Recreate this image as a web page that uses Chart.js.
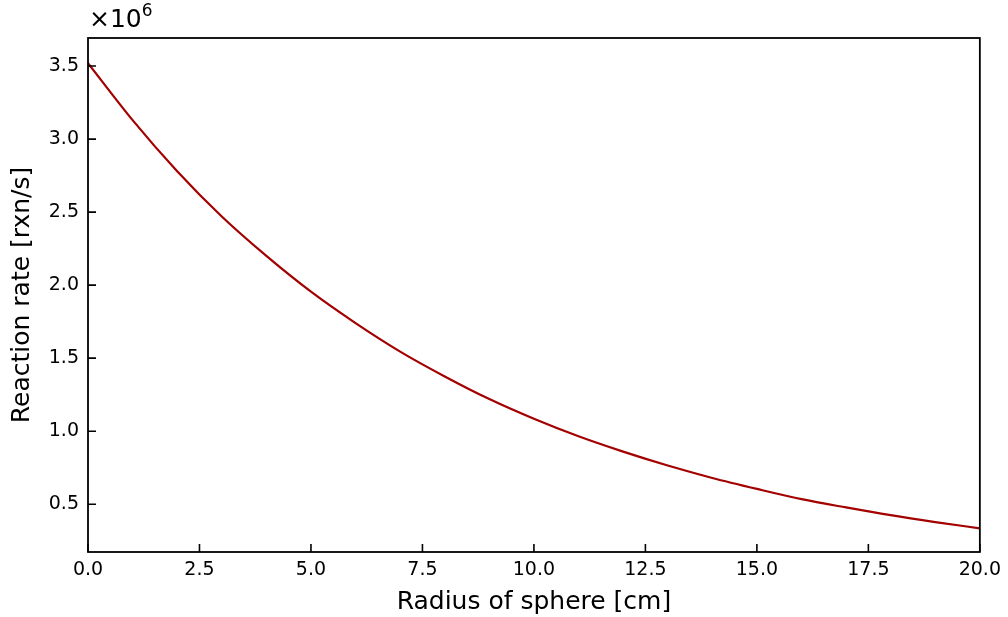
<!DOCTYPE html>
<html>
<head>
<meta charset="utf-8">
<script src="https://cdn.jsdelivr.net/npm/chart.js@4"></script>
<style>
  html, body { margin: 0; padding: 0; background: #fff; }
  #wrap { width: 1008px; height: 617px; position: relative; }
  #expo { position: absolute; left: 89px; top: 2px; font-family: "DejaVu Sans"; font-size: 25px; color: #000; }
  #expo sup { font-size: 17px; position: relative; top: -2px; }
</style>
</head>
<body>
<div id="wrap">
  <canvas id="chart" width="1008" height="617"></canvas>
  <div id="expo">×10<sup>6</sup></div>
</div>
<script>
// radius of sphere [cm]
const radius = [0, 1, 2, 3, 4, 5, 6, 7, 8, 9, 10, 11, 12, 13, 14, 15, 16, 17, 18, 19, 20];
// reaction rate [x10^6 rxn/s]
const rate = [3.52, 3.13, 2.78, 2.47, 2.20, 1.955, 1.74, 1.545, 1.375, 1.22, 1.085,
              0.965, 0.86, 0.765, 0.68, 0.605, 0.535, 0.478, 0.425, 0.378, 0.335];
const xTicks = [0, 2.5, 5, 7.5, 10, 12.5, 15, 17.5, 20];
const yTicks = [0.5, 1.0, 1.5, 2.0, 2.5, 3.0, 3.5];

const FONT = "DejaVu Sans";

// box around the plot + ticks pointing inwards (matplotlib style)
const frame = {
  id: "frame",
  afterDraw(chart) {
    const { ctx, chartArea: a, scales } = chart;
    ctx.save();
    ctx.strokeStyle = "#000";
    ctx.lineWidth = 1.8;
    ctx.strokeRect(a.left, a.top, a.right - a.left, a.bottom - a.top);
    ctx.lineWidth = 1.6;
    ctx.beginPath();
    for (const v of xTicks) {
      const px = scales.x.getPixelForValue(v);
      ctx.moveTo(px, a.bottom);
      ctx.lineTo(px, a.bottom - 8);
    }
    for (const v of yTicks) {
      const py = scales.y.getPixelForValue(v);
      ctx.moveTo(a.left, py);
      ctx.lineTo(a.left + 8, py);
    }
    ctx.stroke();
    ctx.restore();
  }
};

new Chart(document.querySelector("#chart"), {
  type: "line",
  data: {
    datasets: [{
      data: radius.map((r, i) => ({ x: r, y: rate[i] })),
      borderColor: "#a30000",
      borderWidth: 2.2,
      pointRadius: 0,
      cubicInterpolationMode: "monotone",
    }],
  },
  options: {
    responsive: false,
    animation: false,
    layout: { padding: { left: 0, top: 38, right: 25, bottom: 0 } },
    plugins: { legend: { display: false }, tooltip: { enabled: false } },
    scales: {
      x: {
        type: "linear",
        min: 0, max: 20,
        afterBuildTicks: s => { s.ticks = xTicks.map(v => ({ value: v })); },
        afterFit: s => { s.height = 65; },
        grid: { display: false, drawTicks: false },
        border: { display: false },
        ticks: {
          padding: 7, color: "#000",
          font: { family: FONT, size: 19 },
          callback: v => v.toFixed(1),
          maxRotation: 0,
        },
        title: {
          display: true, text: "Radius of sphere [cm]", color: "#000",
          font: { family: FONT, size: 25 }, padding: { top: 0, bottom: 0 },
        },
      },
      y: {
        min: 0.173, max: 3.692,
        afterBuildTicks: s => { s.ticks = yTicks.map(v => ({ value: v })); },
        afterFit: s => { s.width = 88; },
        grid: { display: false, drawTicks: false },
        border: { display: false },
        ticks: {
          padding: 9, color: "#000",
          font: { family: FONT, size: 19 },
          callback: v => v.toFixed(1),
        },
        title: {
          display: true, text: "Reaction rate [rxn/s]", color: "#000",
          font: { family: FONT, size: 25 }, padding: { top: 7, bottom: 0 },
        },
      },
    },
  },
  plugins: [frame],
});
</script>
</body>
</html>
